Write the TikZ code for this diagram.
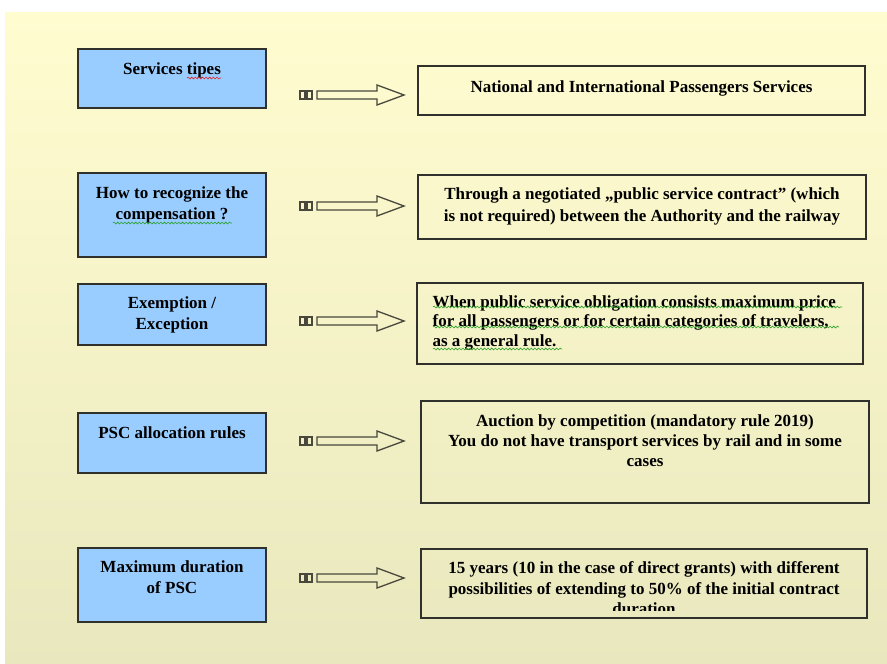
\documentclass[tikz,border=0pt]{standalone}
\usepackage{fontspec}
\setmainfont{Liberation Serif}
\usetikzlibrary{decorations.pathmorphing}

\definecolor{panelTop}{RGB}{255,253,208}
\definecolor{panelBot}{RGB}{233,231,189}
\definecolor{boxBlue}{RGB}{153,204,255}
\definecolor{lineGrey}{RGB}{48,48,44}
\definecolor{arrGrey}{RGB}{72,72,60}
\definecolor{spellRed}{RGB}{230,30,30}
\definecolor{spellGreen}{RGB}{40,160,40}

\tikzset{
  lbox/.style={draw=lineGrey,line width=1.2pt,fill=boxBlue,minimum width=188pt,inner sep=0pt},
  rbox/.style={draw=lineGrey,line width=1.2pt,inner sep=0pt},
  ltxt/.style={anchor=north,inner sep=0pt,align=center,font=\bfseries\fontsize{17}{21}\selectfont},
  rtxt/.style={anchor=north,inner sep=0pt,align=center,font=\bfseries\fontsize{17}{19.5}\selectfont},
  arr/.style={draw=arrGrey,line width=1.3pt},
  wavy/.style={decorate,decoration={snake,amplitude=0.9pt,segment length=3.6pt},line width=0.6pt}
}

\begin{document}
\begin{tikzpicture}[x=1pt,y=-1pt]
  \useasboundingbox (0,0) rectangle (887,664);
  \fill[white] (0,0) rectangle (887,664);
  \shade[top color=panelTop,bottom color=panelBot] (5,12) rectangle (887,664);

  \node[lbox,minimum height=59pt] (k1) at (172,78.5) {};
  \node[lbox,minimum height=84pt] (k2) at (172,215) {};
  \node[lbox,minimum height=61pt] (k3) at (172,314.5) {};
  \node[lbox,minimum height=60pt] (k4) at (172,443) {};
  \node[lbox,minimum height=74pt] (k5) at (172,585) {};

  \node[ltxt] (k1t) at ([yshift=-14pt]k1.north) {Services tipes};
  \node[ltxt] (k2t) at ([yshift=-14pt]k2.north) {How to recognize the\\compensation ?};
  \node[ltxt] (k3t) at ([yshift=-13.5pt]k3.north) {Exemption /\\Exception};
  \node[ltxt] (k4t) at ([yshift=-14pt]k4.north) {PSC allocation rules};
  \node[ltxt] (k5t) at ([yshift=-13.5pt]k5.north) {Maximum duration\\of PSC};

  \node[rbox,minimum width=447pt,minimum height=49pt] (d1) at (641.5,90.5) {};
  \node[rbox,minimum width=448pt,minimum height=64pt] (d2) at (642,207) {};
  \node[rbox,minimum width=446pt,minimum height=81pt] (d3) at (640,323.5) {};
  \node[rbox,minimum width=448pt,minimum height=102pt] (d4) at (645,452) {};
  \node[rbox,minimum width=446pt,minimum height=69pt] (d5) at (644,583.5) {};

  \node[rtxt] (d1t) at ([yshift=-15.5pt]d1.north) {National and International Passengers Services};
  \node[rtxt,font=\bfseries\fontsize{17}{22}\selectfont] (d2t) at ([yshift=-13pt]d2.north)
    {Through a negotiated „public service contract" (which\\is not required) between the Authority and the railway};
  \node[rtxt,anchor=north west,align=left] (d3t) at ([xshift=16pt,yshift=-13pt]d3.north west)
    {When public service obligation consists maximum price\\for all passengers or for certain categories of travelers,\\as a general rule.};
  \node[rtxt,font=\bfseries\fontsize{17}{20}\selectfont] (d4t) at ([yshift=-14pt]d4.north)
    {Auction by competition (mandatory rule 2019)\\You do not have transport services by rail and in some\\cases};
  \begin{scope}
    \clip (d5.north west) rectangle ([yshift=8pt]d5.south east);
    \node[rtxt,font=\bfseries\fontsize{17}{20.5}\selectfont] (d5t) at ([yshift=-13pt]d5.north)
      {15 years (10 in the case of direct grants) with different\\possibilities of extending to 50\% of the initial contract\\duration};
  \end{scope}

  \foreach \n/\y in {1/95,2/206,3/321,4/441,5/578}{
    \coordinate (p\n) at (300,\y);
    \draw[arr] (p\n) ++(0,-4) rectangle ++(5,8);
    \draw[arr] (p\n) ++(7,-4) rectangle ++(5,8);
    \draw[arr] (p\n) ++(17,-4) -- ++(60,0) -- ++(0,-6) -- ++(27,10) -- ++(-27,10) -- ++(0,-6) -- ++(-60,0) -- cycle;
  }

  \draw[wavy,spellRed] (187,78) -- (221,78);
  \draw[wavy,spellGreen] (113,223) -- (232,223);
  \draw[wavy,spellGreen] (433,307) -- (842,307);
  \draw[wavy,spellGreen] (433,327) -- (839,327);
  \draw[wavy,spellGreen] (433,349) -- (562,349);
\end{tikzpicture}
\end{document}
